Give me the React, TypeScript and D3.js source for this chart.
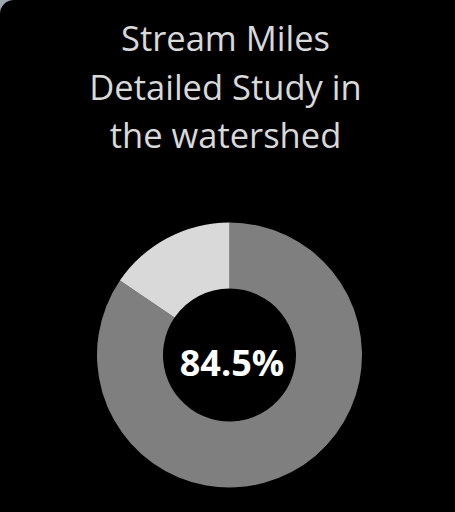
import React, { useEffect, useRef } from "react";
import * as d3 from "d3";

const categories: string[] = ["Detailed Study", "Remaining"];
const values: number[] = [84.5, 15.5];
const titleLines: string[] = ["Stream Miles", "Detailed Study in", "the watershed"];
const centerLabel = "84.5%";

const sliceColors: string[] = ["#7f7f7f", "#d9d9d9"];

const App: React.FC = () => {
  const svgRef = useRef<SVGSVGElement>(null);
  const width = 455;
  const height = 512;

  useEffect(() => {
    if (!svgRef.current) return;
    const svg = d3.select(svgRef.current);
    svg.selectAll("*").remove();

    // background: light frame showing at the corners, black rounded card on top
    svg.append("rect").attr("width", width).attr("height", height).attr("fill", "#9ea7b2");
    svg
      .append("rect")
      .attr("x", 0)
      .attr("y", 0)
      .attr("width", width + 14)
      .attr("height", height + 14)
      .attr("rx", 14)
      .attr("fill", "#000");

    const title = svg
      .append("text")
      .attr("text-anchor", "middle")
      .style("font-family", "'Open Sans', sans-serif")
      .style("font-size", "34.5px")
      .style("fill", "#d9d9d9");
    titleLines.forEach((line, i) => {
      title
        .append("tspan")
        .attr("x", 225.5)
        .attr("y", 51 + i * 48.6)
        .text(line);
    });

    const color = d3.scaleOrdinal<string, string>().domain(categories).range(sliceColors);

    const pie = d3
      .pie<number>()
      .sort(null)
      .value((d) => d);
    const outer = 132.5;
    const arc = d3
      .arc<d3.PieArcDatum<number>>()
      .innerRadius(66.5)
      .outerRadius(outer);

    const g = svg.append("g").attr("transform", "translate(229.5,355)");
    g.selectAll("path")
      .data(pie(values))
      .enter()
      .append("path")
      .attr("d", arc)
      .attr("fill", (d, i) => color(categories[i]));

    g.append("text")
      .attr("text-anchor", "middle")
      .attr("x", 2.5)
      .attr("y", 20.5)
      .style("font-family", "'Open Sans', sans-serif")
      .style("font-weight", "bold")
      .style("font-size", "36px")
      .style("fill", "#fff")
      .text(centerLabel);
  }, []);

  return (
    <svg
      ref={svgRef}
      width={width}
      height={height}
      style={{ position: "absolute", left: 0, top: 0, display: "block" }}
    />
  );
};

export default App;
